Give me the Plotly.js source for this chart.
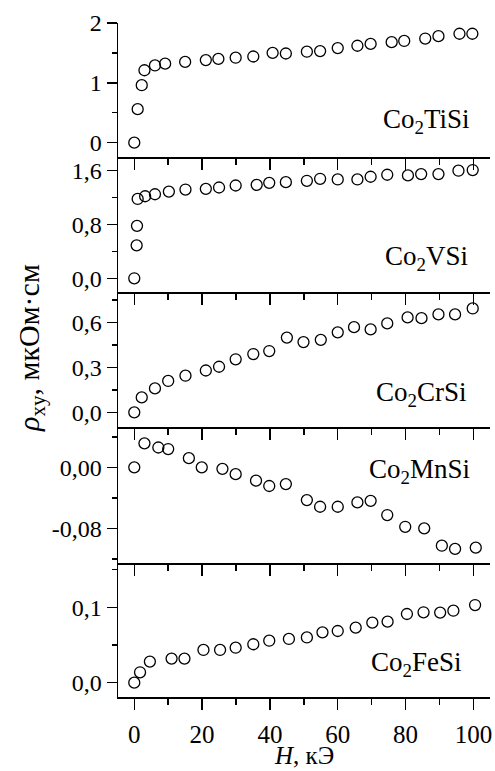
<!DOCTYPE html>
<html>
<head>
<meta charset="utf-8">
<script src="https://cdn.plot.ly/plotly-3.0.1.min.js"></script>
<style>html,body{margin:0;padding:0;background:#fff;}#chart{width:495px;height:771px;}</style>
</head>
<body>
<div id="chart"></div>
<script>
// ---- data ----
const compounds = ["Co<sub>2</sub>TiSi", "Co<sub>2</sub>VSi", "Co<sub>2</sub>CrSi", "Co<sub>2</sub>MnSi", "Co<sub>2</sub>FeSi"];

const hTi   = [0, 1.0, 2.2, 3.0, 6.1, 9.1, 15.0, 21.1, 24.8, 29.9, 35.1, 40.8, 44.7, 50.9, 54.8, 60.0, 65.8, 69.7, 75.9, 79.6, 85.8, 89.7, 95.9, 99.7];
const rhoTi = [0, 0.56, 0.96, 1.21, 1.29, 1.32, 1.35, 1.38, 1.40, 1.42, 1.44, 1.50, 1.49, 1.52, 1.53, 1.58, 1.62, 1.65, 1.68, 1.70, 1.74, 1.78, 1.82, 1.82];

const hV   = [0, 0.7, 0.8, 1.0, 3.2, 6.1, 10.2, 15.1, 21.1, 25.0, 29.9, 36.1, 39.8, 44.7, 50.9, 54.8, 60.0, 65.8, 69.7, 74.6, 80.7, 84.6, 89.7, 95.6, 99.8];
const rhoV = [0, 0.49, 0.78, 1.18, 1.22, 1.25, 1.29, 1.32, 1.33, 1.35, 1.38, 1.39, 1.42, 1.43, 1.45, 1.48, 1.47, 1.47, 1.51, 1.54, 1.53, 1.55, 1.55, 1.60, 1.61];

const hCr   = [0, 2.2, 6.1, 10.0, 15.1, 21.1, 25.0, 29.9, 35.1, 39.8, 45.0, 49.9, 55.0, 60.0, 64.8, 69.7, 74.6, 80.6, 84.7, 89.7, 94.6, 99.8];
const rhoCr = [0, 0.10, 0.16, 0.21, 0.245, 0.28, 0.305, 0.355, 0.39, 0.41, 0.50, 0.47, 0.485, 0.535, 0.57, 0.555, 0.595, 0.635, 0.63, 0.655, 0.655, 0.695];

const hMn   = [0, 3.0, 7.1, 10.0, 16.1, 19.9, 26.0, 29.9, 35.9, 39.8, 44.7, 50.9, 54.8, 60.0, 65.8, 69.7, 74.6, 79.9, 85.5, 90.7, 94.6, 100.7];
const rhoMn = [0, 0.0315, 0.026, 0.024, 0.012, 0.0, -0.002, -0.009, -0.0175, -0.0245, -0.022, -0.043, -0.0517, -0.0517, -0.046, -0.044, -0.0626, -0.078, -0.080, -0.1028, -0.107, -0.1054];

const hFe   = [0, 1.7, 4.6, 11.0, 14.8, 20.4, 25.3, 29.9, 35.1, 39.8, 45.6, 50.9, 55.5, 60.0, 65.3, 70.2, 74.7, 80.4, 85.3, 90.2, 94.1, 100.5];
const rhoFe = [0, 0.0138, 0.028, 0.032, 0.032, 0.0434, 0.0434, 0.0464, 0.051, 0.0557, 0.058, 0.060, 0.0668, 0.0686, 0.073, 0.0796, 0.081, 0.0911, 0.0934, 0.093, 0.0955, 0.103];

const xTickVals = [0, 20, 40, 60, 80, 100];
const xTickText = ["0", "20", "40", "60", "80", "100"];
const xMinorVals = [10, 30, 50, 70, 90];

const yTickVals  = [[0, 1, 2], [0, 0.8, 1.6], [0, 0.3, 0.6], [-0.08, 0.00], [0, 0.1]];
const yTickText  = [["0", "1", "2"], ["0,0", "0,8", "1,6"], ["0,0", "0,3", "0,6"], ["-0,08", "0,00"], ["0,0", "0,1"]];
const yMinorVals = [[0.5, 1.5], [0.4, 1.2], [0.15, 0.45, 0.75], [-0.12, -0.04, 0.04], [0.05, 0.15]];

const xTitle = "<i>H</i>, кЭ";
const yTitle = '<i>ρ</i><sub>xy</sub>, мкОм·см';

// ---- layout ----
const W = 495, H = 771;
const mL = 118, mR = 5, mT = 23, mB = 74;
const plotH = H - mT - mB;
const plotW = W - mL - mR;
const panelPx = [[23, 157], [157, 292], [292, 427], [427, 563], [563, 697]];
const yRanges = [[-0.24, 2.0], [-0.204, 1.804], [-0.098, 0.805], [-0.1255, 0.0529], [-0.019, 0.1588]];
const xRange = [-4.8, 104.9];

const serif = "Liberation Serif";
const hs = [hTi, hV, hCr, hMn, hFe];
const rs = [rhoTi, rhoV, rhoCr, rhoMn, rhoFe];

const traces = [];
const layout = {
  width: W, height: H,
  margin: {l: mL, r: mR, t: mT, b: mB},
  paper_bgcolor: "#fff", plot_bgcolor: "#fff",
  showlegend: false,
  font: {family: serif, color: "#000", size: 23},
  annotations: []
};

for (let i = 0; i < 5; i++) {
  const n = i === 0 ? "" : String(i + 1);
  traces.push({
    x: hs[i], y: rs[i],
    xaxis: "x" + n, yaxis: "y" + n,
    type: "scatter", mode: "markers",
    marker: {symbol: "circle-open", size: 11, color: "#000", line: {width: 1.3, color: "#000"}},
    cliponaxis: false
  });
  const top = panelPx[i][0], bot = panelPx[i][1];
  const dom = [(H - mB - bot) / plotH, (H - mB - top) / plotH];
  layout["xaxis" + n] = {
    anchor: "y" + n, range: xRange, domain: [0, 1],
    showline: true, linecolor: "#000", linewidth: 1.5,
    ticks: "outside", ticklen: 11, tickwidth: 1.5, tickcolor: "#000",
    tickmode: "array", tickvals: xTickVals, ticktext: xTickText,
    showticklabels: i === 4, ticklabelstandoff: 3,
    tickfont: {family: serif, size: 25, color: "#000"},
    minor: {tickmode: "array", tickvals: xMinorVals, ticks: "outside", ticklen: 6, tickwidth: 1.5, tickcolor: "#000", showgrid: false},
    showgrid: false, zeroline: false, fixedrange: true
  };
  layout["yaxis" + n] = {
    anchor: "x" + n, domain: dom, range: yRanges[i],
    showline: true, linecolor: "#000", linewidth: 1.5,
    ticks: "outside", ticklen: 10, tickwidth: 1.5, tickcolor: "#000",
    tickmode: "array", tickvals: yTickVals[i], ticktext: yTickText[i],
    tickfont: {family: serif, size: 24, color: "#000"},
    minor: {tickmode: "array", tickvals: yMinorVals[i], ticks: "outside", ticklen: 5, tickwidth: 1.5, tickcolor: "#000", showgrid: false},
    showgrid: false, zeroline: false, fixedrange: true
  };
}

// compound labels (right-aligned inside each panel)
const labelPx = [[472, 121.7], [470, 259], [469, 395], [472, 472], [464, 665]];
for (let i = 0; i < 5; i++) {
  layout.annotations.push({
    text: compounds[i], xref: "paper", yref: "paper",
    x: (labelPx[i][0] - mL) / plotW, y: (H - mB - labelPx[i][1]) / plotH,
    xanchor: "right", yanchor: "middle", yshift: 1,
    showarrow: false, font: {family: serif, size: 27, color: "#000"}
  });
}
// x axis title
layout.annotations.push({
  text: xTitle, xref: "paper", yref: "paper",
  x: (304 - mL) / plotW, y: (H - mB - 755) / plotH,
  xanchor: "center", yanchor: "middle", yshift: 0,
  showarrow: false, font: {family: serif, size: 25, color: "#000"}
});
// y axis title
layout.annotations.push({
  text: yTitle, xref: "paper", yref: "paper",
  x: (31 - mL) / plotW, y: (H - mB - 348) / plotH,
  xanchor: "center", yanchor: "middle", textangle: -90,
  showarrow: false, font: {family: serif, size: 30, color: "#000"}
});

Plotly.newPlot("chart", traces, layout, {displayModeBar: false, staticPlot: true});
</script>
</body>
</html>
